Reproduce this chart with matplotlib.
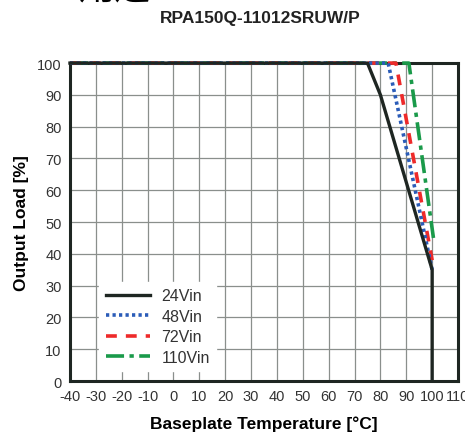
import matplotlib
matplotlib.use("Agg")
import matplotlib.pyplot as plt

plt.rcParams['font.family'] = ['Liberation Sans', 'DejaVu Sans']
plt.rcParams['axes.unicode_minus'] = False

# derating curves (temperature in degC, output load in %)
t_24 = [-40, 75, 80, 100, 100]
l_24 = [100, 100, 90, 35, 0]
t_48 = [-40, 83, 100]
l_48 = [100, 100, 35]
t_72 = [-40, 86, 100]
l_72 = [100, 100, 38]
t_110 = [-40, 91, 100.5]
l_110 = [100, 100, 45]

x_ticks = list(range(-40, 111, 10))
y_ticks = list(range(0, 101, 10))

fig = plt.figure(figsize=(4.65, 4.39), dpi=100)
ax = fig.add_axes([0.1505, 0.1298, 0.8345, 0.7242])

ax.plot(t_110, l_110, color="#1a9a4a", lw=2.6, ls=(0, (5, 1.5, 1.2, 1.5)),
        label="110Vin", zorder=4, clip_on=False)
ax.plot(t_72, l_72, color="#ee2a2a", lw=2.6, ls=(0, (3, 2.5)),
        label="72Vin", zorder=4, clip_on=False)
ax.plot(t_48, l_48, color="#2b5cb8", lw=2.6, ls=(0, (0.9, 0.9)),
        label="48Vin", zorder=4, clip_on=False)
ax.plot(t_24, l_24, color="#1e2622", lw=2.4, label="24Vin", zorder=5, clip_on=False)

ax.set_xlim(-40, 110)
ax.set_ylim(0, 100)
ax.set_xticks(x_ticks)
ax.set_xticklabels([str(v) for v in x_ticks])
ax.set_yticks(y_ticks)
ax.tick_params(length=0, labelsize=10.5, colors="#333333", pad=6)
ax.grid(True, color="#8a8f8c", lw=0.9)
ax.set_axisbelow(True)
for s in ax.spines.values():
    s.set_linewidth(2.2)
    s.set_color("#1e2622")
    s.set_zorder(3)

h, lab = ax.get_legend_handles_labels()
leg = ax.legend(h[::-1], lab[::-1], loc="lower left", bbox_to_anchor=(0.055, 0.005),
                frameon=True, fontsize=11.5, handlelength=2.8, labelspacing=0.35,
                borderpad=0.4, handletextpad=0.7)
leg.get_frame().set_edgecolor("white")
leg.get_frame().set_facecolor("white")
leg.get_frame().set_alpha(1)
for t in leg.get_texts():
    t.set_color("#333333")

ax.set_xlabel("Baseplate Temperature [°C]", fontsize=12.5, fontweight="bold", labelpad=9)
ax.set_ylabel("Output Load [%]", fontsize=12.5, fontweight="bold", labelpad=6)
fig.text(0.56, 0.958, "RPA150Q-11012SRUW/P", ha="center", va="center",
         fontsize=12.5, fontweight="bold", color="#222222")
fig.text(0.17, 1.025, "用途", ha="left", va="center", fontsize=26,
         family=['Noto Sans CJK SC', 'DejaVu Sans'])

fig.savefig("out.png", dpi=100)
